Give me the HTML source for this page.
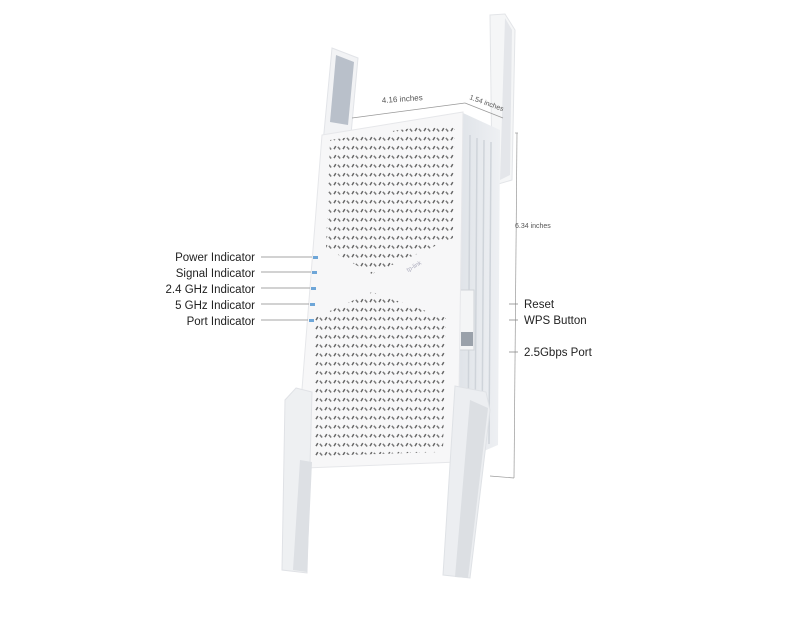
<!DOCTYPE html>
<html><head><meta charset="utf-8"><style>
html,body{margin:0;padding:0;background:#fff}
svg{display:block}
text{font-family:"Liberation Sans",sans-serif}
</style></head><body>
<svg width="800" height="640" viewBox="0 0 800 640" xmlns="http://www.w3.org/2000/svg">
<defs>
<pattern id="holes" width="9" height="9" patternUnits="userSpaceOnUse">
<rect x="1" y="2" width="1.5" height="3.5" fill="#666" transform="rotate(30 2 4)"/>
<rect x="5.5" y="2.5" width="1.5" height="3.5" fill="#777" transform="rotate(-40 6 4.5)"/>
</pattern>
<linearGradient id="side" x1="0" x2="1"><stop offset="0" stop-color="#dfe3e8"/><stop offset="1" stop-color="#eef0f3"/></linearGradient>
</defs>
<!-- top antennas -->
<polygon points="332,48 358,58 345,200 318,196" fill="#f2f3f5" stroke="#e2e4e8"/>
<polygon points="336,55 354,62 348,125 330,122" fill="#b9c0ca"/>
<polygon points="490,15 505,14 515,30 512,180 495,185 492,170" fill="#f5f6f7" stroke="#e3e5e8"/>
<polygon points="505,18 512,30 510,175 500,180" fill="#e4e6ea"/>
<!-- side face -->
<polygon points="463,113 500,130 498,445 458,462" fill="url(#side)"/>
<g stroke="#cfd4da" stroke-width="1.5">
<line x1="470" y1="135" x2="468" y2="450"/><line x1="477" y1="138" x2="475" y2="448"/>
<line x1="484" y1="140" x2="482" y2="446"/><line x1="491" y1="142" x2="489" y2="444"/>
</g>
<rect x="459" y="290" width="15" height="60" fill="#f4f5f6" stroke="#d0d4d8"/>
<rect x="461" y="332" width="12" height="14" fill="#9aa1aa"/>
<!-- front face -->
<polygon points="322,135 463,112 458,462 305,468 298,440" fill="#f7f7f8" stroke="#e6e7ea"/>
<polygon points="330,140 455,122 453,238 372,274 326,248" fill="url(#holes)"/>
<polygon points="372,292 446,318 443,452 314,456 314,318" fill="url(#holes)"/>
<text x="408" y="272" font-size="6" fill="#aab" transform="rotate(-30 408 272)">tp-link</text>
<!-- LEDs -->
<g fill="#6ea6d8"><rect x="313" y="256" width="5" height="3"/><rect x="312" y="271" width="5" height="3"/><rect x="311" y="287" width="5" height="3"/><rect x="310" y="303" width="5" height="3"/><rect x="309" y="319" width="5" height="3"/></g>
<!-- bottom antennas -->
<polygon points="296,388 312,392 307,573 282,570 285,400" fill="#eef0f2" stroke="#e0e2e6"/>
<polygon points="300,460 312,462 307,572 293,570" fill="#dde0e4"/>
<polygon points="455,386 486,392 490,410 470,578 443,575" fill="#eceef1" stroke="#dfe2e6"/>
<polygon points="470,400 488,408 468,578 455,577" fill="#dcdfe3"/>
<!-- dimension lines -->
<g stroke="#999" stroke-width="0.7" fill="none">
<line x1="352" y1="118" x2="465" y2="103"/><line x1="465" y1="103" x2="503" y2="118"/>
<line x1="515" y1="133" x2="518" y2="133"/><line x1="517" y1="133" x2="514" y2="478"/><line x1="514" y1="478" x2="490" y2="476"/>
</g>
<text x="382" y="103" font-size="8" fill="#555" transform="rotate(-4 382 103)">4.16 inches</text>
<text x="469" y="99" font-size="7" fill="#555" transform="rotate(20 469 99)">1.54 inches</text>
<text x="515" y="228" font-size="7" fill="#555">6.34 inches</text>
<!-- labels -->
<g font-size="11.5" fill="#222" text-anchor="end">
<text x="255" y="261">Power Indicator</text>
<text x="255" y="277">Signal Indicator</text>
<text x="255" y="293">2.4 GHz Indicator</text>
<text x="255" y="309">5 GHz Indicator</text>
<text x="255" y="325">Port Indicator</text>
</g>
<g stroke="#888" stroke-width="0.8">
<line x1="261" y1="257" x2="312" y2="257"/><line x1="261" y1="272" x2="311" y2="272"/>
<line x1="261" y1="288" x2="310" y2="288"/><line x1="261" y1="304" x2="309" y2="304"/>
<line x1="261" y1="320" x2="308" y2="320"/>
<line x1="509" y1="304" x2="518" y2="304"/><line x1="509" y1="320" x2="518" y2="320"/>
<line x1="509" y1="352" x2="518" y2="352"/>
</g>
<g font-size="11.5" fill="#222">
<text x="524" y="308">Reset</text>
<text x="524" y="324">WPS Button</text>
<text x="524" y="356">2.5Gbps Port</text>
</g>
</svg>
</body></html>
